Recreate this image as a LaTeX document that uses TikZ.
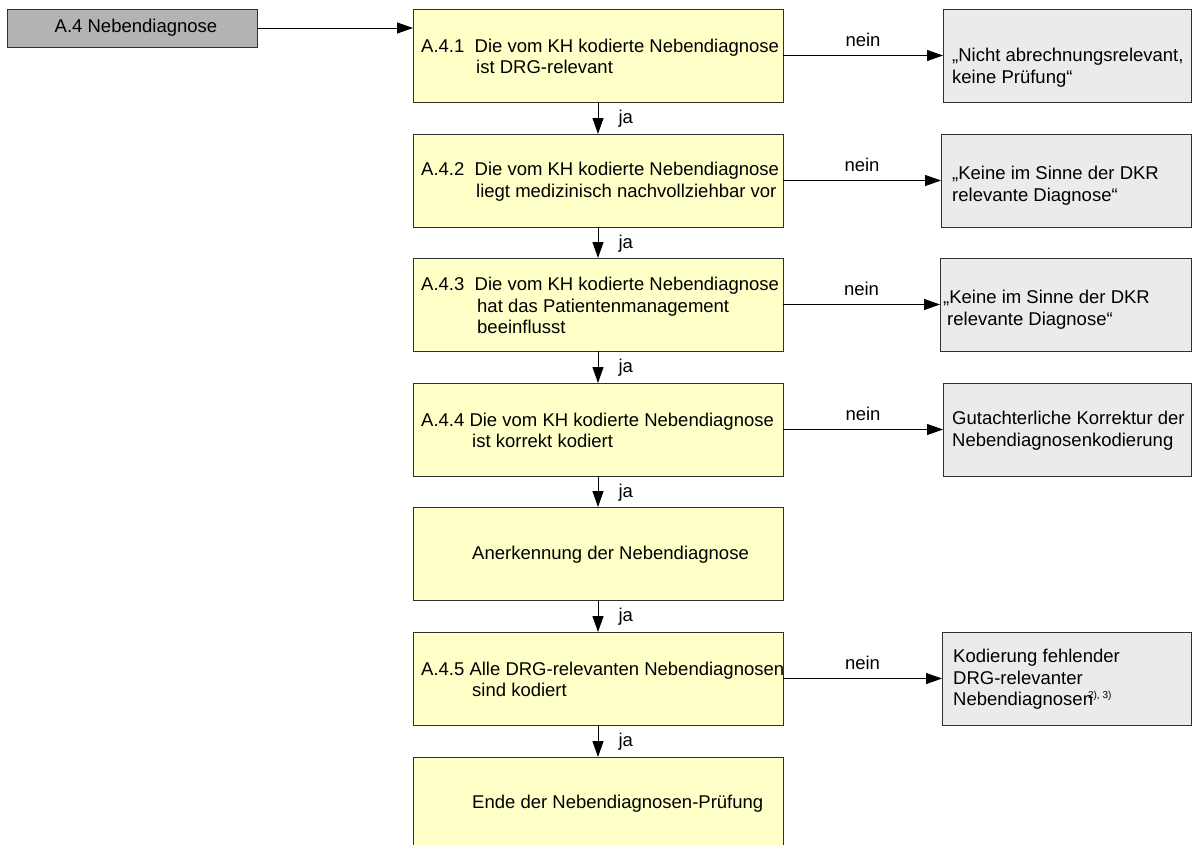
\documentclass[tikz,border=0pt]{standalone}
\usepackage{fontspec}
\setmainfont{Liberation Sans}
\usetikzlibrary{arrows.meta}
\definecolor{yfill}{HTML}{FFFFC8}
\definecolor{gfill}{HTML}{EBEBEB}
\definecolor{hfill}{HTML}{B3B3B3}
\definecolor{bordc}{HTML}{303030}
\begin{document}
\begin{tikzpicture}[x=1pt,y=-1pt,
  every node/.style={font=\fontsize{18.5}{21.7}\selectfont},
  ybox/.style={draw=bordc, line width=1pt, fill=yfill, minimum width=370pt, minimum height=93pt, inner sep=0pt, outer sep=0pt, anchor=north west},
  gbox/.style={draw=bordc, line width=1pt, fill=gfill, minimum height=93pt, inner sep=0pt, outer sep=0pt, anchor=north west},
  hbox/.style={draw=bordc, line width=1pt, fill=hfill, minimum width=250pt, minimum height=38pt, inner sep=0pt, outer sep=0pt, anchor=north west},
  txt/.style={align=left, inner sep=0pt, anchor=west},
  arr/.style={draw=black, line width=1pt, -{Triangle[length=16pt,width=11pt]}},
  jalab/.style={anchor=west, inner sep=0pt, xshift=20pt, yshift=-1pt},
  neinlab/.style={anchor=base, inner sep=0pt, yshift=9pt}]
\clip (0,0) rectangle (1192,844);
\fill[white] (0,0) rectangle (1192,844);
% header
\node[hbox] (h) at (7,9) {};
\node[inner sep=0pt] (ht) at ([xshift=4pt]h.center) {A.4 Nebendiagnose};
% yellow boxes
\node[ybox] (b1) at (413,9) {};
\node[ybox] (b2) at (413,134) {};
\node[ybox] (b3) at (413,258) {};
\node[ybox] (b4) at (413,383) {};
\node[ybox] (b5) at (413,507) {};
\node[ybox] (b6) at (413,632) {};
\node[ybox] (b7) at (413,757) {};
\node[txt] (t1) at ([xshift=8pt,yshift=-1pt]b1.west) {A.4.1\ \ Die vom KH kodierte Nebendiagnose\\\hspace*{55pt}ist DRG-relevant};
\node[txt] (t2) at ([xshift=8pt,yshift=-1pt]b2.west) {A.4.2\ \ Die vom KH kodierte Nebendiagnose\\\hspace*{55pt}liegt medizinisch nachvollziehbar vor};
\node[txt] (t3) at ([xshift=8pt,yshift=-1pt]b3.west) {A.4.3\ \ Die vom KH kodierte Nebendiagnose\\\hspace*{56pt}hat das Patientenmanagement\\\hspace*{56pt}beeinflusst};
\node[txt] (t4) at ([xshift=8pt,yshift=-1pt]b4.west) {A.4.4 Die vom KH kodierte Nebendiagnose\\\hspace*{51pt}ist korrekt kodiert};
\node[txt] (t5) at ([xshift=59pt,yshift=-1pt]b5.west) {Anerkennung der Nebendiagnose};
\node[txt] (t6) at ([xshift=8pt,yshift=-1pt]b6.west) {A.4.5 Alle DRG-relevanten Nebendiagnosen\\\hspace*{51pt}sind kodiert};
\node[txt] (t7) at ([xshift=59pt]b7.west) {Ende der Nebendiagnosen-Pr\"ufung};
% gray boxes
\node[gbox, minimum width=248pt] (g1) at (943,9) {};
\node[gbox, minimum width=250pt] (g2) at (941,134) {};
\node[gbox, minimum width=251pt] (g3) at (940,258) {};
\node[gbox, minimum width=248pt] (g4) at (943,383) {};
\node[gbox, minimum width=249pt] (g5) at (942,632) {};
\node[txt] (s1) at ([xshift=9pt,yshift=-12pt]g1.west) {„Nicht abrechnungsrelevant,\\keine Prüfung“};
\node[txt] (s2) at ([xshift=11pt,yshift=-5pt]g2.west) {„Keine im Sinne der DKR\\relevante Diagnose“};
\node[txt] (s3) at ([xshift=3pt,yshift=-5pt]g3.west) {„Keine im Sinne der DKR\\\hspace*{4pt}relevante Diagnose“};
\node[txt] (s4) at ([xshift=9pt,yshift=-1pt]g4.west) {Gutachterliche Korrektur der\\Nebendiagnosenkodierung};
\node[txt] (s5) at ([xshift=11pt,yshift=-1pt]g5.west) {Kodierung fehlender\\DRG-relevanter\\Nebendiagnosen\hspace{-5pt}\raisebox{7pt}{\fontsize{10}{10}\selectfont 2), 3)}};
% connectors
\draw[arr] (h.east) -- (h.east -| b1.west);
\draw[arr] (b1.south) -- node[jalab] {ja} (b2.north);
\draw[arr] (b2.south) -- node[jalab] {ja} (b3.north);
\draw[arr] (b3.south) -- node[jalab] {ja} (b4.north);
\draw[arr] (b4.south) -- node[jalab] {ja} (b5.north);
\draw[arr] (b5.south) -- node[jalab] {ja} (b6.north);
\draw[arr] (b6.south) -- node[jalab] {ja} (b7.north);
\draw[arr] (b1.east) -- node[neinlab] {nein} (g1.west);
\draw[arr] (b2.east) -- node[neinlab] {nein} (g2.west);
\draw[arr] (b3.east) -- node[neinlab] {nein} (g3.west);
\draw[arr] (b4.east) -- node[neinlab] {nein} (g4.west);
\draw[arr] (b6.east) -- node[neinlab] {nein} (g5.west);
\end{tikzpicture}
\end{document}
